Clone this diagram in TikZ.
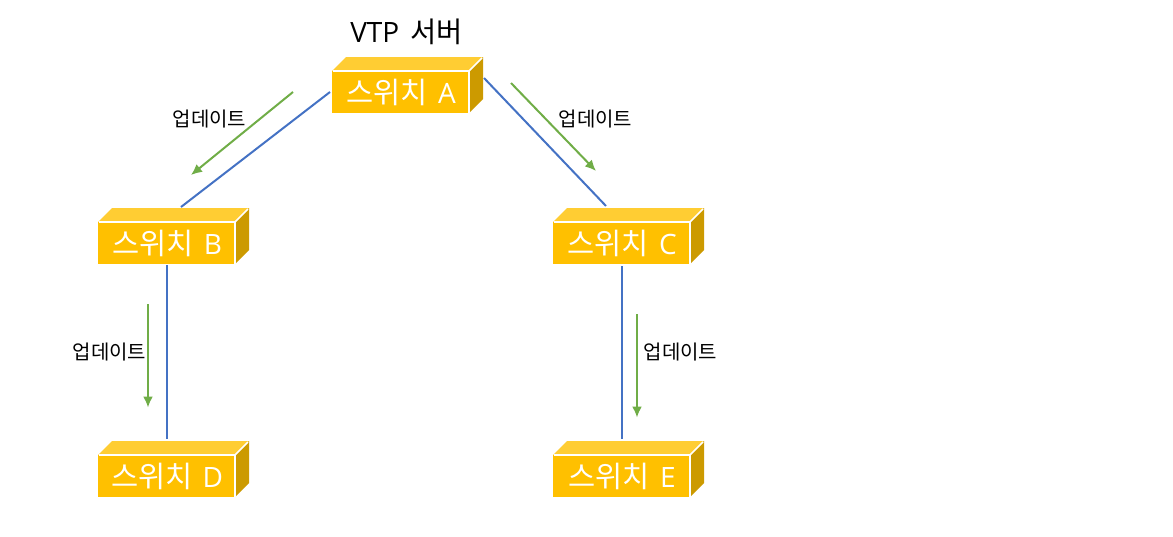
\documentclass[tikz,border=0pt]{standalone}
\usepackage{fontspec}
\setmainfont{Noto Sans CJK KR}[Scale=1]
\newfontfamily\latinf{Open Sans}
\definecolor{boxfront}{HTML}{FFC000}
\definecolor{boxtop}{HTML}{FFCD33}
\definecolor{boxside}{HTML}{CC9A00}
\definecolor{linkblue}{HTML}{4472C4}
\definecolor{updgreen}{HTML}{70AD47}
\usetikzlibrary{arrows.meta}
\tikzset{
  swfront/.style={fill=boxfront,inner sep=0pt,minimum width=138pt,minimum height=42pt,text=white,font=\fontsize{29.5pt}{30pt}\selectfont},
  swedge/.style={draw=white,line width=1.5pt,line join=round},
  link/.style={draw=linkblue,line width=2pt},
  upd/.style={draw=updgreen,line width=2pt,-{Latex[length=11pt,width=10pt]}},
  updlabel/.style={inner sep=0pt,font=\fontsize{20pt}{20pt}\selectfont},
}
\newcommand{\switchbox}[4]{%
  \fill[boxtop] (#2,#3) -- ++(14,-14) -- ++(137,0) -- ++(-14,14) -- cycle;
  \fill[boxside] (#2+137,#3) -- ++(14,-14) -- ++(0,42) -- ++(-14,14) -- cycle;
  \node[swfront,anchor=north west] (#1) at (#2,#3) {스위치\hspace{10pt}{\latinf\fontsize{28pt}{30pt}\selectfont #4}};
  \draw[swedge] (#2+1,#3) -- (#2+137,#3) -- (#2+137,#3+42);
  \draw[swedge] (#2+137,#3) -- (#2+150,#3-13);
}
\begin{document}
\begin{tikzpicture}[x=1pt,y=-1pt]
\useasboundingbox (0,0) rectangle (1173,536);
\switchbox{swA}{332}{71}{A}
\switchbox{swB}{98}{222}{B}
\switchbox{swC}{553}{222}{C}
\switchbox{swD}{98}{455}{D}
\switchbox{swE}{553}{455}{E}
\node[inner sep=0pt,font=\fontsize{28.5pt}{29pt}\selectfont] (title) at (406.5,31.5) {{\latinf\fontsize{28pt}{29pt}\selectfont VTP}\hspace{11pt}서버};
\coordinate (aL) at (330,92);
\coordinate (bT) at (181,207);
\coordinate (aR) at (484,78);
\coordinate (cT) at (606,206);
\coordinate (bB) at (167,265);
\coordinate (dT) at (167,439);
\coordinate (cB) at (622,266);
\coordinate (eT) at (622,439);
\draw[link] (aL) -- (bT);
\draw[link] (aR) -- (cT);
\draw[link] (bB) -- (dT);
\draw[link] (cB) -- (eT);
\coordinate (u1s) at (293,92);
\coordinate (u1e) at (191,175);
\coordinate (u2s) at (511,83);
\coordinate (u2e) at (596,171);
\coordinate (u3s) at (148,304);
\coordinate (u3e) at (148,407.5);
\coordinate (u4s) at (637,314);
\coordinate (u4e) at (637,417.5);
\draw[upd] (u1s) -- (u1e);
\draw[upd] (u2s) -- (u2e);
\draw[upd] (u3s) -- (u3e);
\draw[upd] (u4s) -- (u4e);
\node[updlabel] (l1) at (209.5,119) {업데이트};
\node[updlabel] (l2) at (595.5,119) {업데이트};
\node[updlabel] (l3) at (109.5,352) {업데이트};
\node[updlabel] (l4) at (680.5,352) {업데이트};
\end{tikzpicture}
\end{document}
